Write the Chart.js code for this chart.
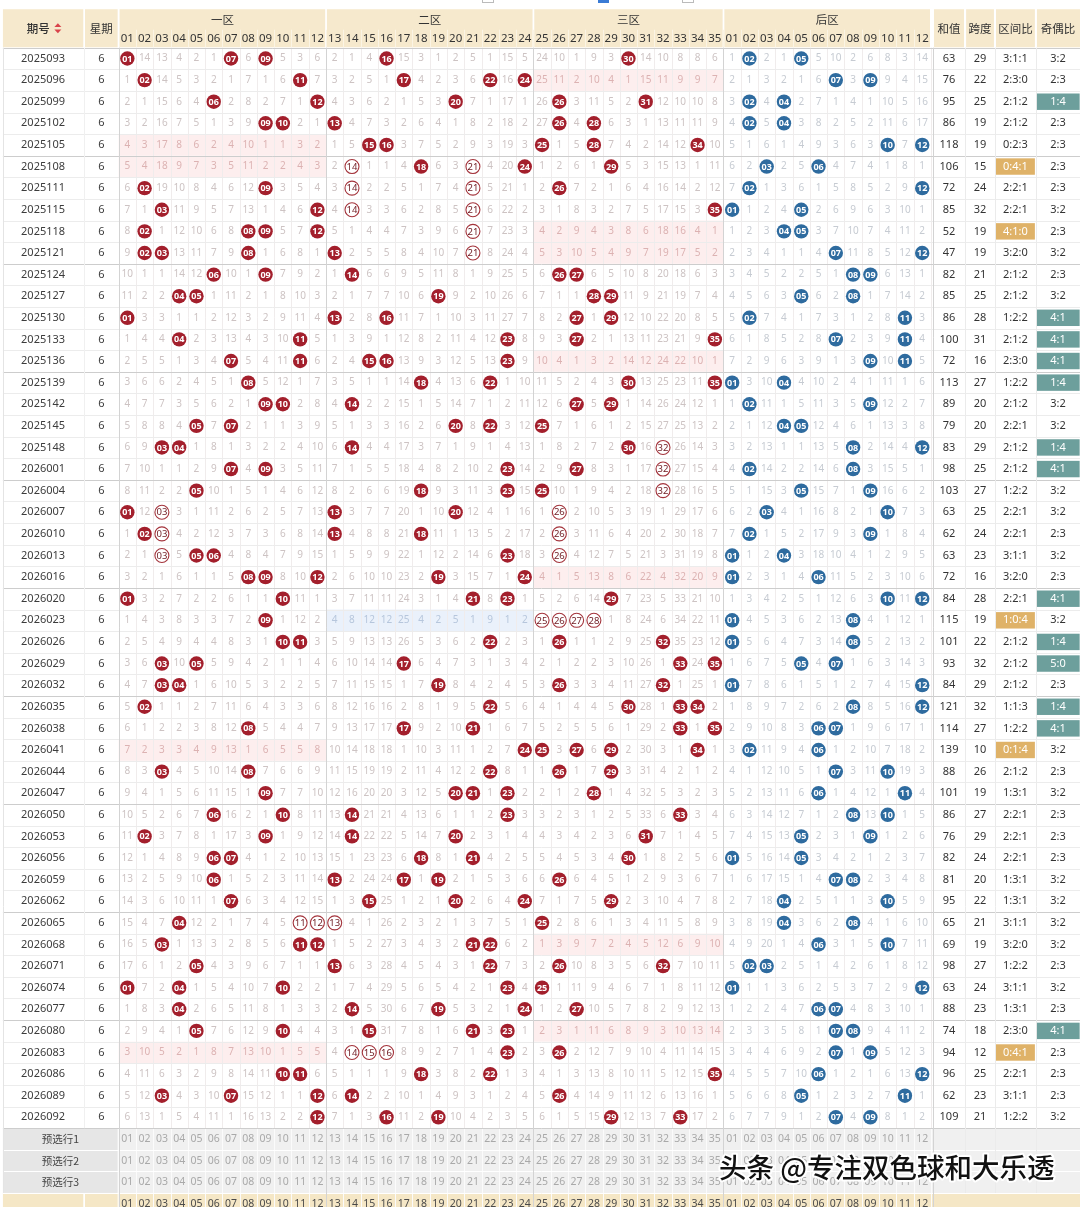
<!DOCTYPE html>
<html lang="zh-CN">
<head>
<meta charset="utf-8">
<title>大乐透基本走势</title>
<script src="https://cdn.jsdelivr.net/npm/chart.js@4.4.1/dist/chart.umd.min.js"></script>
<style>
html, body { margin: 0; padding: 0; background: #fff; }
#wrap { position: relative; width: 1080px; height: 1207px; }
</style>
</head>
<body>
<div id="wrap"><canvas id="trend"></canvas></div>
<script>
// 期号
const issues = ['2025093','2025096','2025099','2025102','2025105','2025108','2025111','2025115','2025118','2025121',
  '2025124','2025127','2025130','2025133','2025136','2025139','2025142','2025145','2025148','2026001',
  '2026004','2026007','2026010','2026013','2026016','2026020','2026023','2026026','2026029','2026032',
  '2026035','2026038','2026041','2026044','2026047','2026050','2026053','2026056','2026059','2026062',
  '2026065','2026068','2026071','2026074','2026077','2026080','2026083','2026086','2026089','2026092'];
const weekdays = [6,6,6,6,6,6,6,6,6,6, 6,6,6,6,6,6,6,6,6,6, 6,6,6,6,6,6,6,6,6,6,
  6,6,6,6,6,6,6,6,6,6, 6,6,6,6,6,6,6,6,6,6];

// 前区开奖号码
const frontDraws = [
  [1,7,9,16,30],[2,11,17,22,24],[6,12,20,26,31],[9,10,13,26,28],[15,16,25,28,34],
  [14,18,21,24,29],[2,9,14,21,26],[3,12,14,21,35],[2,8,9,12,21],[2,3,8,13,21],
  [6,9,14,26,27],[4,5,19,28,29],[1,13,16,27,29],[4,11,23,27,35],[7,11,15,16,23],
  [8,18,22,30,35],[9,10,14,27,29],[5,7,20,22,25],[3,4,14,30,32],[7,9,23,27,32],
  [5,18,23,25,32],[1,3,13,20,26],[2,3,13,18,26],[3,5,6,23,26],[8,9,12,19,24],
  [1,10,21,23,29],[9,25,26,27,28],[10,11,22,26,32],[3,5,17,33,35],[3,4,19,26,32],
  [2,22,30,33,34],[8,17,21,33,35],[24,25,27,29,34],[3,8,22,26,29],[9,20,21,23,28],
  [6,10,14,23,33],[2,9,14,20,31],[6,7,18,21,30],[6,13,17,19,26],[7,15,20,24,29],
  [4,11,12,13,25],[3,11,12,21,22],[5,13,22,26,32],[1,4,10,23,25],[4,14,19,24,27],
  [5,10,15,21,23],[14,15,16,23,26],[10,11,18,22,35],[3,7,12,14,26],[12,16,19,29,33]
];
// 后区开奖号码
const backDraws = [
  [2,5],[7,9],[2,4],[2,4],[10,12],[3,6],[2,12],[1,5],[4,5],[7,12],
  [8,9],[5,8],[2,11],[7,11],[9,11],[1,4],[2,9],[4,5],[8,12],[2,8],
  [5,9],[3,10],[2,9],[1,4],[1,6],[10,12],[1,8],[1,8],[5,7],[1,12],
  [8,12],[6,7],[2,6],[7,10],[6,11],[8,10],[5,9],[1,5],[7,8],[4,10],
  [4,8],[6,10],[2,3],[1,12],[6,7],[7,8],[7,9],[6,12],[5,11],[7,9]
];
const sums = [63,76,95,86,118,106,72,85,52,47,82,85,86,100,72,113,89,79,83,98,
  103,63,62,63,72,84,115,101,93,84,121,114,139,88,101,86,76,82,81,95,
  65,69,98,63,88,74,94,96,62,109];
const spans = [29,22,25,19,19,15,24,32,19,19,21,25,28,31,16,27,20,20,29,25,
  27,25,24,23,16,28,19,22,32,29,32,27,10,26,19,27,29,24,20,22,
  21,19,27,24,23,18,12,25,23,21];
const zoneRatios = ['3:1:1','2:3:0','2:1:2','2:1:2','0:2:3','0:4:1','2:2:1','2:2:1','4:1:0','3:2:0',
  '2:1:2','2:1:2','1:2:2','2:1:2','2:3:0','1:2:2','2:1:2','2:2:1','2:1:2','2:1:2',
  '1:2:2','2:2:1','2:2:1','3:1:1','3:2:0','2:2:1','1:0:4','2:1:2','2:1:2','2:1:2',
  '1:1:3','1:2:2','0:1:4','2:1:2','1:3:1','2:2:1','2:2:1','2:2:1','1:3:1','1:3:1',
  '3:1:1','3:2:0','1:2:2','3:1:1','1:3:1','2:3:0','0:4:1','2:2:1','3:1:1','1:2:2'];
const oddEvenRatios = ['3:2','2:3','1:4','2:3','2:3','2:3','2:3','3:2','2:3','3:2',
  '2:3','3:2','4:1','4:1','4:1','1:4','3:2','3:2','1:4','4:1',
  '3:2','3:2','2:3','3:2','2:3','4:1','3:2','1:4','5:0','2:3',
  '1:4','4:1','3:2','2:3','3:2','2:3','2:3','2:3','3:2','3:2',
  '3:2','3:2','2:3','3:2','2:3','4:1','2:3','2:3','2:3','3:2'];

// 第一行的遗漏值(前区 01-35,后区 01-12),0 = 开出
const firstFrontMiss = [0,14,13,4,2,1,0,6,0,5,3,6, 2,1,4,0,15,3,1,2,5,1,15,5,
  24,10,1,9,3,0,14,10,8,8,6];
const firstBackMiss = [1,0,2,1,0,5,10,2,6,8,3,14];

const zoneNames = ['一区','二区','三区','后区'];
const statNames = ['和值','跨度','区间比','奇偶比'];
const preselectNames = ['预选行1','预选行2','预选行3'];
const frontLabels = ['01','02','03','04','05','06','07','08','09','10','11','12','13','14','15','16','17','18',
  '19','20','21','22','23','24','25','26','27','28','29','30','31','32','33','34','35'];
const backLabels = ['01','02','03','04','05','06','07','08','09','10','11','12'];

// 版面(刻度单位:x 一格 = 一个号码列,y 一格 = 一期)
const L = {
  idCol: [-7.2, -2.55], weekCol: [-2.45, -0.56],
  zones: [[-0.5, 11.5], [11.5, 23.5], [23.5, 34.5], [34.5, 46.5]],
  stat: [[46.62, 48.48], [48.48, 50.21], [50.21, 52.58], [52.58, 55.13]],
  headTop: -2.28, headMid: -1.33, headBottom: -0.52
};
const FONT = '"Noto Sans", "Noto Sans CJK SC", sans-serif';
const CJK = '"Noto Sans CJK SC", "Noto Sans", sans-serif';

// 遗漏值
function buildMiss(draws, start, size) {
  const rows = [];
  draws.forEach((d, i) => {
    const row = [];
    for (let n = 1; n <= size; n++) {
      if (d.includes(n)) row.push(0);
      else row.push(i === 0 ? start[n - 1] : rows[i - 1][n - 1] + 1);
    }
    rows.push(row);
  });
  return rows;
}
const frontMiss = buildMiss(frontDraws, firstFrontMiss, 35);
const backMiss = buildMiss(backDraws, firstBackMiss, 12);

// 连出三期或三连号 -> 空心球
function isRing(r, n) {
  let run = 1, k = r - 1;
  while (k >= 0 && frontDraws[k].includes(n)) { run++; k--; }
  k = r + 1;
  while (k < frontDraws.length && frontDraws[k].includes(n)) { run++; k++; }
  if (run >= 3) return true;
  let h = 1, m = n - 1;
  while (frontDraws[r].includes(m)) { h++; m--; }
  m = n + 1;
  while (frontDraws[r].includes(m)) { h++; m++; }
  return h >= 3;
}

const solidPts = [], ringPts = [], backPts = [];
frontDraws.forEach((d, r) => d.forEach(n => {
  (isRing(r, n) ? ringPts : solidPts).push({ x: n - 1, y: r, label: frontLabels[n - 1] });
}));
backDraws.forEach((d, r) => d.forEach(n => {
  backPts.push({ x: 34 + n, y: r, label: backLabels[n - 1] });
}));

const tablePlugin = {
  id: 'trendTable',
  beforeDatasetsDraw(chart) {
    const ctx = chart.ctx, xs = chart.scales.x, ys = chart.scales.y;
    const X = v => xs.getPixelForValue(v), Y = v => ys.getPixelForValue(v);
    const box = (x0, x1, y0, y1, c) => { ctx.fillStyle = c; ctx.fillRect(X(x0), Y(y0), X(x1) - X(x0), Y(y1) - Y(y0)); };
    const vline = (x, y0, y1, c, w) => { ctx.strokeStyle = c; ctx.lineWidth = w || 1; ctx.beginPath(); ctx.moveTo(Math.round(X(x)) + 0.5, Y(y0)); ctx.lineTo(Math.round(X(x)) + 0.5, Y(y1)); ctx.stroke(); };
    const hline = (y, x0, x1, c, w) => { ctx.strokeStyle = c; ctx.lineWidth = w || 1; ctx.beginPath(); ctx.moveTo(X(x0), Math.round(Y(y)) + 0.5); ctx.lineTo(X(x1), Math.round(Y(y)) + 0.5); ctx.stroke(); };
    const text = (s, x, y, font, color) => { ctx.font = font; ctx.fillStyle = color; ctx.fillText(s, X(x), Y(y)); };
    const nRows = issues.length;
    const xEnd = L.stat[3][1];
    ctx.save();
    ctx.textAlign = 'center';
    ctx.textBaseline = 'middle';

    // 顶部残留的复选框
    [[482, 493, '#bbb', false], [598, 609, '#3a7bd5', true], [682, 693, '#bbb', false]].forEach(([a, b, c, fill]) => {
      ctx.strokeStyle = c; ctx.fillStyle = c;
      if (fill) ctx.fillRect(a, -6, b - a, 9); else ctx.strokeRect(a + 0.5, -6, b - a, 8.5);
    });

    // 表头
    const hb = '#f6e9cd';
    box(L.idCol[0], L.idCol[1], L.headTop, L.headBottom, hb);
    box(L.weekCol[0], L.weekCol[1], L.headTop, L.headBottom, hb);
    L.zones.forEach(([a, b]) => box(a + 0.05, b - 0.05, L.headTop, L.headBottom, hb));
    L.stat.forEach(([a, b], i) => box(a + 0.06, b - (i === 3 ? 0 : 0.06), L.headTop, L.headBottom, hb));
    const midHead = (L.headTop + L.headBottom) / 2;
    text('期号', -5.15, midHead, '500 11.5px ' + CJK, '#333');
    ctx.fillStyle = '#d9434b';
    const ix = X(-4.02), iy = Y(midHead);
    ctx.beginPath(); ctx.moveTo(ix - 3.5, iy - 1.2); ctx.lineTo(ix + 3.5, iy - 1.2); ctx.lineTo(ix, iy - 5); ctx.fill();
    ctx.beginPath(); ctx.moveTo(ix - 3.5, iy + 1.2); ctx.lineTo(ix + 3.5, iy + 1.2); ctx.lineTo(ix, iy + 5); ctx.fill();
    text('星期', (L.weekCol[0] + L.weekCol[1]) / 2, midHead, '11.5px ' + CJK, '#333');
    L.zones.forEach(([a, b], z) => text(zoneNames[z], (a + b) / 2, (L.headTop + L.headMid) / 2, '11.5px ' + CJK, '#333'));
    L.stat.forEach(([a, b], i) => text(statNames[i], (a + b) / 2, midHead, '11.5px ' + CJK, '#333'));
    const headNums = frontLabels.concat(backLabels);
    headNums.forEach((s, c) => text(s, c, (L.headMid + L.headBottom) / 2 + 0.02, '11.5px ' + FONT, '#333'));
    for (let c = 0; c <= 46; c++) vline(c - 0.5, L.headMid, L.headBottom, '#fbf4e4');

    // 区间为 0 的底色
    zoneRatios.forEach((s, r) => {
      s.split(':').forEach((v, z) => {
        if (v === '0') {
          const [a, b] = L.zones[z];
          box(a, b, r - 0.5, r + 0.5, z === 1 ? '#eaf1fb' : '#fdeeee');
        }
      });
    });

    // 预选行 + 底部号码行
    const preTop = nRows - 0.5, footTop = nRows + preselectNames.length - 0.5;
    box(L.idCol[0], L.weekCol[1], preTop, footTop, '#e6e6e6');
    box(-0.5, xEnd, preTop, footTop, '#f0f0f0');
    box(L.idCol[0], L.idCol[1], footTop, footTop + 1.2, '#f5e7c6');
    box(L.weekCol[0], L.weekCol[1], footTop, footTop + 1.2, '#f5e7c6');
    box(-0.5, xEnd, footTop, footTop + 1.2, '#f5e7c6');

    // 网格
    for (let c = 0; c <= 47; c++) vline(c - 0.5, -0.5, preTop, '#f0ecec');
    for (let c = 0; c <= 47; c++) vline(c - 0.5, preTop, footTop + 1.2, '#fbfbfb');
    for (let r = 0; r <= nRows + preselectNames.length; r++) {
      const isPre = r > nRows;
      const c = isPre ? '#ffffff' : (r % 5 === 0 ? '#cdcdcd' : '#ececec');
      hline(r - 0.5, L.idCol[0], xEnd, c);
    }
    L.zones.forEach(([a]) => vline(a, -0.5, footTop + 1.2, '#d3d3d3'));
    vline(L.stat[0][0], -0.5, footTop + 1.2, '#d3d3d3');
    L.stat.slice(1).forEach(([a]) => vline(a, -0.5, footTop, '#ebebeb'));
    vline(L.weekCol[0] - 0.05, -0.5, nRows - 0.5, '#f0f0f0');
    vline(L.idCol[0], -0.5, footTop, '#e4e4e4');

    // 每期文字
    for (let r = 0; r < nRows; r++) {
      text(issues[r], (L.idCol[0] + L.idCol[1]) / 2, r, '11px ' + FONT, '#3c3c3c');
      text(String(weekdays[r]), (L.weekCol[0] + L.weekCol[1]) / 2, r, '11px ' + FONT, '#3c3c3c');
      const zr = zoneRatios[r].split(':');
      frontMiss[r].forEach((m, c) => {
        if (m === 0) return;
        const z = c < 12 ? 0 : (c < 24 ? 1 : 2);
        const col = zr[z] === '0' ? (z === 1 ? '#b6c6dc' : '#dcb2b2') : '#cdc3c3';
        text(String(m), c, r, '10px ' + FONT, col);
      });
      backMiss[r].forEach((m, c) => {
        if (m === 0) return;
        text(String(m), 35 + c, r, '10px ' + FONT, '#c6cbd2');
      });
      const sc = L.stat.map(([a, b]) => (a + b) / 2);
      text(String(sums[r]), sc[0], r, '11px ' + FONT, '#333');
      text(String(spans[r]), sc[1], r, '11px ' + FONT, '#333');
      const zHot = zr.some(v => Number(v) >= 4);
      if (zHot) box(L.stat[2][0] + 0.06, L.stat[2][1] - 0.06, r - 0.38, r + 0.38, '#dfb268');
      text(zoneRatios[r], sc[2], r, '11px ' + FONT, zHot ? '#fff' : '#333');
      const oe = oddEvenRatios[r].split(':').map(Number);
      const oHot = Math.max(oe[0], oe[1]) >= 4;
      if (oHot) box(L.stat[3][0] + 0.06, L.stat[3][1] - 0.02, r - 0.38, r + 0.38, '#6d9f9c');
      text(oddEvenRatios[r], sc[3], r, '11px ' + FONT, oHot ? '#fff' : '#333');
    }

    // 预选行与底行号码
    preselectNames.forEach((s, i) => {
      const r = nRows + i;
      text(s, (L.idCol[0] + L.weekCol[1]) / 2, r, '10.5px ' + CJK, '#444');
      headNums.forEach((n, c) => text(n, c, r, '10.5px ' + FONT, '#a9a9a9'));
    });
    headNums.forEach((n, c) => text(n, c, footTop + 0.5, '10.5px ' + FONT, '#4a4a4a'));
    ctx.restore();
  },
  afterDatasetsDraw(chart) {
    const ctx = chart.ctx;
    ctx.save();
    ctx.textAlign = 'center';
    ctx.textBaseline = 'middle';
    chart.data.datasets.forEach((ds, i) => {
      const meta = chart.getDatasetMeta(i);
      meta.data.forEach((el, j) => {
        const ring = ds.label === '前区连号';
        ctx.font = (ring ? '9.5px ' : 'bold 9px ') + FONT;
        ctx.fillStyle = ring ? '#6e1b22' : '#ffffff';
        ctx.fillText(ds.data[j].label, el.x, el.y + 0.5);
      });
    });
    // 水印
    const mark = '头条 @专注双色球和大乐透';
    ctx.font = '500 24px ' + CJK;
    const w = ctx.measureText(mark).width;
    const size = 24 * 336 / w;
    ctx.font = '500 ' + size.toFixed(1) + 'px ' + CJK;
    ctx.textAlign = 'left';
    ctx.lineJoin = 'round';
    ctx.lineWidth = 4;
    ctx.strokeStyle = '#ffffff';
    ctx.strokeText(mark, 719, 1168);
    ctx.fillStyle = '#111111';
    ctx.fillText(mark, 719, 1168);
    ctx.restore();
  }
};

new Chart(document.getElementById('trend'), {
  type: 'scatter',
  data: {
    datasets: [
      { label: '前区', data: solidPts, pointRadius: 7.2, pointHoverRadius: 7.2, backgroundColor: '#a31f2c', borderColor: '#a31f2c', borderWidth: 0 },
      { label: '前区连号', data: ringPts, pointRadius: 7, pointHoverRadius: 7, backgroundColor: '#ffffff', borderColor: '#a4343c', borderWidth: 1.1 },
      { label: '后区', data: backPts, pointRadius: 7.2, pointHoverRadius: 7.2, backgroundColor: '#2e6b9f', borderColor: '#2e6b9f', borderWidth: 0 }
    ]
  },
  options: {
    responsive: true,
    maintainAspectRatio: false,
    animation: false,
    events: [],
    layout: { padding: 0, autoPadding: false },
    plugins: { legend: { display: false }, tooltip: { enabled: false } },
    scales: {
      x: { type: 'linear', display: false, min: -7.369, max: 55.131 },
      y: { type: 'linear', display: false, reverse: true, min: -2.707, max: 53.15 }
    }
  },
  plugins: [tablePlugin]
});
</script>
</body>
</html>
